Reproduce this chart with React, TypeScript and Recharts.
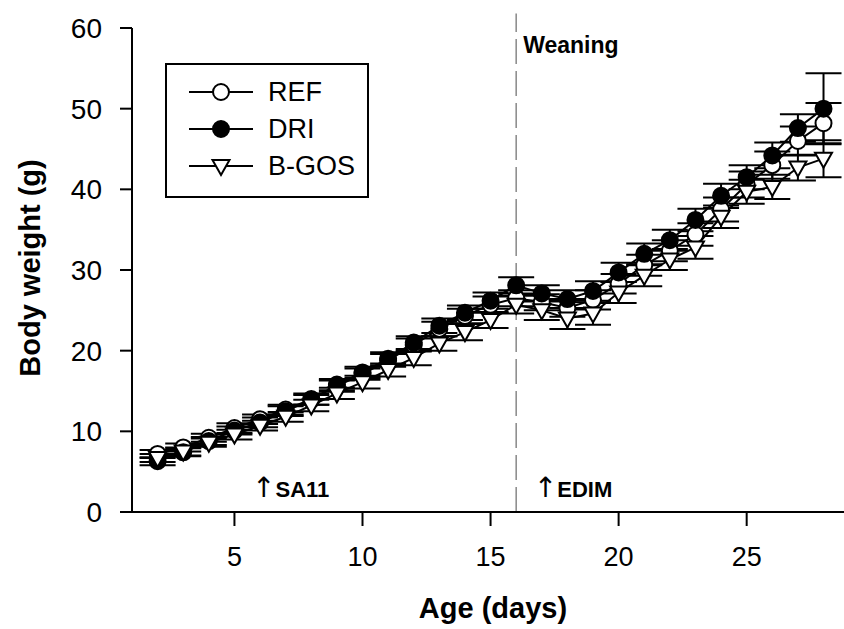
import React from 'react';
import { LineChart, Line, XAxis, YAxis, ErrorBar, ReferenceLine, ReferenceDot, Label } from 'recharts';

// age in days
const days = [2, 3, 4, 5, 6, 7, 8, 9, 10, 11, 12, 13, 14, 15, 16, 17, 18, 19, 20, 21, 22, 23, 24, 25, 26, 27, 28];

const refMean = [7.2, 8.0, 9.2, 10.4, 11.5, 12.7, 14.0, 15.6, 17.1, 18.8, 20.7, 22.7, 24.3, 25.7, 26.5, 26.0, 25.3, 26.3, 28.3, 30.6, 32.4, 34.4, 37.5, 40.6, 43.0, 46.0, 48.2];
const refSem = [0.5, 0.5, 0.5, 0.6, 0.6, 0.6, 0.7, 0.7, 0.7, 0.8, 0.8, 0.9, 0.9, 1.0, 1.0, 1.0, 1.1, 1.2, 1.2, 1.3, 1.3, 1.4, 1.5, 1.6, 1.7, 1.8, 2.5];

const driMean = [6.3, 7.4, 8.8, 10.1, 11.1, 12.5, 13.9, 15.8, 17.3, 19.0, 21.0, 23.1, 24.7, 26.2, 28.1, 27.1, 26.4, 27.4, 29.7, 32.0, 33.7, 36.2, 39.2, 41.5, 44.2, 47.6, 50.0];
const driSem = [0.5, 0.5, 0.5, 0.5, 0.6, 0.6, 0.6, 0.7, 0.7, 0.8, 0.8, 0.9, 0.9, 1.0, 1.0, 1.0, 1.1, 1.2, 1.2, 1.3, 1.3, 1.4, 1.5, 1.5, 1.6, 1.7, 4.4];

const bgosMean = [6.7, 7.5, 8.6, 9.6, 10.7, 11.8, 13.2, 14.7, 16.1, 17.6, 19.1, 20.9, 22.3, 23.8, 25.7, 25.0, 24.0, 24.6, 27.2, 29.3, 31.3, 32.8, 36.6, 39.7, 40.3, 42.7, 43.8];
const bgosSem = [0.5, 0.5, 0.5, 0.6, 0.6, 0.6, 0.7, 0.7, 0.8, 0.8, 0.9, 0.9, 1.0, 1.0, 1.1, 1.2, 1.3, 1.4, 1.3, 1.3, 1.3, 1.4, 1.4, 1.5, 1.5, 1.6, 2.3];

const xTicks = [5, 10, 15, 20, 25];
const yTicks = [0, 10, 20, 30, 40, 50, 60];

const weaningDay = 16;
const events = [
  { day: 6, label: 'SA11' },
  { day: 17, label: 'EDIM' },
];

const groups = [
  { key: 'ref', name: 'REF', marker: 'open' },
  { key: 'dri', name: 'DRI', marker: 'filled' },
  { key: 'bgos', name: 'B-GOS', marker: 'triangle' },
];

const data = days.map((d, i) => ({
  day: d,
  ref: refMean[i],
  refErr: refSem[i],
  dri: driMean[i],
  driErr: driSem[i],
  bgos: bgosMean[i],
  bgosErr: bgosSem[i],
}));

const FONT = 'Arial, "Liberation Sans", sans-serif';

const Marker = ({ type, cx, cy }) => {
  if (cx == null || cy == null) return null;
  if (type === 'triangle') {
    const pts = `${cx - 8.5},${cy - 6} ${cx + 8.5},${cy - 6} ${cx},${cy + 9}`;
    return <polygon points={pts} fill="#fff" stroke="#000" strokeWidth={2} />;
  }
  return <circle cx={cx} cy={cy} r={8} fill={type === 'filled' ? '#000' : '#fff'} stroke="#000" strokeWidth={2} />;
};

// legend drawn as an overlay so it does not shift the plot area
const LegendBox = () => (
  <div style={{ position: 'absolute', left: 165, top: 63, width: 200, height: 131, border: '2px solid #000', background: '#fff', fontFamily: FONT }}>
    {groups.map((g, i) => (
      <div key={g.key} style={{ position: 'absolute', left: 0, top: 10 + i * 37, height: 34, width: 200 }}>
        <svg width={90} height={34} style={{ position: 'absolute', left: 0, top: 0 }}>
          <line x1={22} x2={86} y1={17} y2={17} stroke="#000" strokeWidth={2} />
          <Marker type={g.marker} cx={54} cy={17} />
        </svg>
        <span style={{ position: 'absolute', left: 101, top: 0, fontSize: 27, lineHeight: '34px', color: '#000' }}>{g.name}</span>
      </div>
    ))}
  </div>
);

const App = () => (
  <div style={{ position: 'absolute', left: 0, top: 0, width: 844, height: 629, background: '#fff' }}>
    <LineChart width={844} height={629} data={data} margin={{ top: 28, right: 0, bottom: 0, left: 0 }}>
      <XAxis
        dataKey="day"
        type="number"
        domain={[1, 28.8]}
        ticks={xTicks}
        allowDataOverflow
        tickSize={14}
        tickMargin={21}
        height={117}
        axisLine={{ stroke: '#000', strokeWidth: 2 }}
        tickLine={{ stroke: '#000', strokeWidth: 2 }}
        tick={{ fill: '#000', fontSize: 27, fontFamily: FONT }}
      >
        <Label
          content={() => (
            <text x={493} y={618} textAnchor="middle" fontSize={29} fontWeight="bold" fontFamily={FONT} fill="#000">
              Age (days)
            </text>
          )}
        />
      </XAxis>
      <YAxis
        type="number"
        domain={[0, 60]}
        ticks={yTicks}
        width={132}
        tickSize={12}
        tickMargin={18}
        axisLine={{ stroke: '#000', strokeWidth: 2 }}
        tickLine={{ stroke: '#000', strokeWidth: 2 }}
        tick={{ fill: '#000', fontSize: 28, fontFamily: FONT }}
      >
        <Label
          content={() => (
            <text x={40} y={268} transform="rotate(-90 40 268)" textAnchor="middle" fontSize={29} fontWeight="bold" fontFamily={FONT} fill="#000">
              Body weight (g)
            </text>
          )}
        />
      </YAxis>
      <ReferenceLine
        segment={[{ x: weaningDay, y: 0 }, { x: weaningDay, y: 61.8 }]}
        ifOverflow="visible"
        stroke="#888"
        strokeWidth={1.5}
        strokeDasharray="25 7"
      />
      <ReferenceDot
        x={weaningDay}
        y={57.9}
        r={0}
        shape={(p) => (
          <text x={p.cx + 7} y={p.cy + 8} fontSize={23} fontWeight="bold" fontFamily={FONT} fill="#000">
            Weaning
          </text>
        )}
      />
      {events.map((e) => (
        <ReferenceDot
          key={e.label}
          x={e.day}
          y={3}
          r={0}
          shape={(p) => (
            <text x={p.cx - 8} y={p.cy + 9} fill="#000">
              <tspan fontSize={28} fontFamily='"DejaVu Sans", sans-serif'>↑</tspan>
              <tspan fontSize={22} fontWeight="bold" fontFamily={FONT}>{e.label}</tspan>
            </text>
          )}
        />
      ))}
      {groups.map((g) => (
        <Line
          key={g.key}
          dataKey={g.key}
          name={g.name}
          stroke="#000"
          strokeWidth={2}
          isAnimationActive={false}
          dot={(p) => <Marker key={`${g.key}-${p.index}`} type={g.marker} cx={p.cx} cy={p.cy} />}
          activeDot={false}
        >
          <ErrorBar dataKey={`${g.key}Err`} width={18} stroke="#000" strokeWidth={2} direction="y" isAnimationActive={false} />
        </Line>
      ))}
    </LineChart>
    <LegendBox />
  </div>
);

export default App;
